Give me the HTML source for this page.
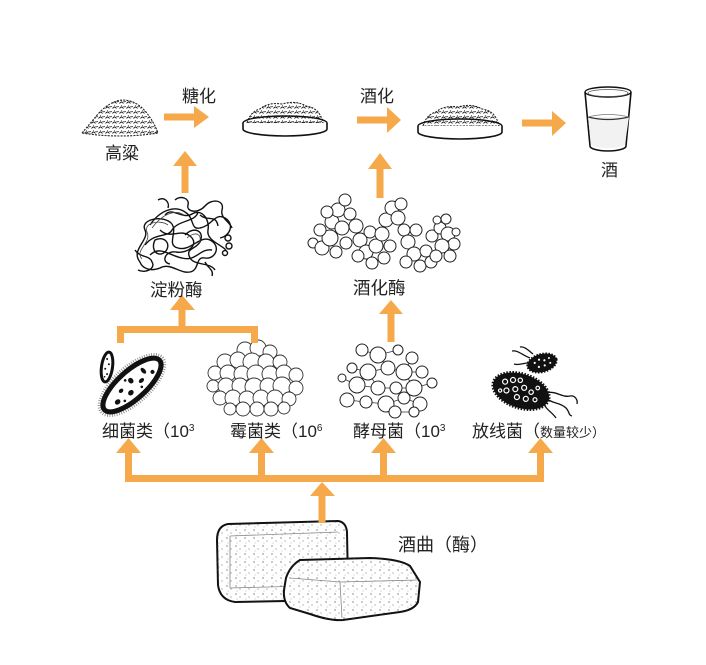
<!DOCTYPE html>
<html><head><meta charset="utf-8">
<style>
html,body{margin:0;padding:0;background:#fff;}
svg{display:block;}
text{font-family:"Liberation Sans","Noto Sans CJK SC",sans-serif;fill:#222;}
</style></head>
<body>
<svg width="706" height="665" viewBox="0 0 706 665" xmlns="http://www.w3.org/2000/svg">
<defs>
<pattern id="grain" width="7" height="5" patternUnits="userSpaceOnUse">
<path d="M0.5,3.5 q2,-3 4,0" fill="none" stroke="#222" stroke-width="0.9"/>
<path d="M4.5,1.2 q1.2,1.4 2.3,0" fill="none" stroke="#222" stroke-width="0.8"/>
<circle cx="2.5" cy="0.8" r="0.5" fill="#333"/>
</pattern>
<pattern id="dots" width="9" height="8" patternUnits="userSpaceOnUse">
<circle cx="2" cy="2" r="0.6" fill="#444"/><circle cx="6" cy="5" r="0.5" fill="#444"/><circle cx="3" cy="7" r="0.4" fill="#666"/>
</pattern>
</defs>
<rect width="706" height="665" fill="#fff"/>

<!-- sorghum pile -->
<path d="M82,133 Q88,126 98,114 Q110,101 122,100 Q136,100 146,112 Q154,122 158,133 Q120,139 82,133 Z" fill="url(#grain)" stroke="#222" stroke-width="1.1" stroke-dasharray="2 1.2"/>

<!-- dish 1 -->
<path d="M247,123 Q250,112 260,109 Q268,102 282,104 Q296,100 306,106 Q320,108 323,123 Z" fill="url(#grain)" stroke="#222" stroke-width="1.1" stroke-dasharray="2 1.2"/>
<ellipse cx="285" cy="123" rx="42" ry="7" fill="none" stroke="#111" stroke-width="1.4"/>
<path d="M243,123 L243,129 A42,7 0 0 0 327,129 L327,123" fill="#fff" stroke="#111" stroke-width="1.6"/>
<!-- dish 2 -->
<path d="M423,126 Q426,115 436,112 Q444,105 458,107 Q472,103 482,109 Q496,111 499,126 Z" fill="url(#grain)" stroke="#222" stroke-width="1.1" stroke-dasharray="2 1.2"/>
<ellipse cx="460" cy="126" rx="42" ry="7" fill="none" stroke="#111" stroke-width="1.4"/>
<path d="M418,126 L418,132 A42,7 0 0 0 502,132 L502,126" fill="#fff" stroke="#111" stroke-width="1.6"/>

<!-- glass -->
<path d="M585,92 L590,146 A18,5 0 0 0 626,146 L631,92" fill="#fff" stroke="#111" stroke-width="1.6"/>
<ellipse cx="608" cy="92" rx="23" ry="5" fill="none" stroke="#111" stroke-width="1.4"/>
<ellipse cx="608" cy="93" rx="20" ry="3.5" fill="none" stroke="#555" stroke-width="0.8"/>
<path d="M588,117 L591,144 A17,4 0 0 0 625,144 L629,117" fill="#f2f2f2" stroke="none"/>
<path d="M588,117 Q608,122 629,117" fill="none" stroke="#333" stroke-width="1.2"/>
<path d="M588,117 Q608,112 629,117" fill="none" stroke="#777" stroke-width="0.8"/>

<!-- amylase squiggles -->
<g fill="none" stroke="#111" stroke-width="1.4">
<path d="M140,262 C130,250 150,240 145,230 C140,220 160,215 170,222 C180,230 165,245 178,248 C190,252 200,235 210,240 C222,246 215,260 205,258 C195,256 200,270 190,272 C180,274 170,262 160,268 C150,272 142,268 140,262"/>
<path d="M150,225 C160,210 175,205 185,212 C195,218 190,230 200,228 C212,226 215,212 225,218 C235,224 230,236 220,238"/>
<path d="M175,200 C180,195 190,198 188,205 C186,212 198,214 205,206 C212,198 225,200 222,210 C220,218 230,222 232,228"/>
<path d="M155,240 C165,235 172,245 165,252 C158,258 150,250 155,240 Z"/>
<path d="M185,235 C195,225 205,232 200,242 C195,250 185,248 190,258 C195,266 210,262 215,270"/>
<path d="M135,250 C140,258 150,255 152,262 C156,268 146,274 138,270"/>
<path d="M160,230 C170,240 180,228 190,236 C200,244 188,254 176,252 C166,250 160,262 170,264"/>
<path d="M145,245 C155,232 168,238 172,230 C178,220 196,222 198,212"/>
<path d="M165,215 C172,206 182,220 192,214 C202,208 210,220 208,230 C206,240 220,244 226,250"/>
<path d="M150,255 C160,245 170,256 182,258 C196,262 200,248 212,250"/>
<path d="M200,215 C208,222 216,214 218,226"/>
<circle cx="228" cy="238" r="3"/><circle cx="229" cy="246" r="3"/><circle cx="225" cy="253" r="2.5"/>
<path d="M205,262 C208,268 214,270 212,276"/>
<path d="M158,200 C164,196 170,202 168,208"/>
</g>
<g fill="none" stroke="#444" stroke-width="0.8">
<path d="M142,259 C134,250 152,243 147,232 C143,223 160,219 168,225"/>
<path d="M152,228 C162,214 175,209 184,215"/>
<path d="M187,238 C196,230 203,235 199,243"/>
</g>

<!-- zymase bubble chain -->
<g fill="#fff" stroke="#222" stroke-width="1">
<circle cx="313" cy="243" r="5"/><circle cx="322" cy="248" r="7"/><circle cx="330" cy="238" r="8"/><circle cx="320" cy="230" r="6"/><circle cx="332" cy="222" r="7"/><circle cx="338" cy="210" r="7"/><circle cx="327" cy="212" r="6"/><circle cx="345" cy="200" r="6"/><circle cx="350" cy="214" r="6"/><circle cx="342" cy="228" r="7"/><circle cx="336" cy="252" r="6"/><circle cx="346" cy="243" r="6"/>
<circle cx="356" cy="226" r="7"/><circle cx="360" cy="240" r="7"/><circle cx="366" cy="252" r="7"/><circle cx="372" cy="263" r="6"/><circle cx="358" cy="256" r="6"/><circle cx="376" cy="246" r="7"/><circle cx="370" cy="232" r="6"/>
<circle cx="382" cy="234" r="7"/><circle cx="386" cy="220" r="7"/><circle cx="392" cy="208" r="7"/><circle cx="401" cy="204" r="6"/><circle cx="398" cy="218" r="7"/><circle cx="390" cy="246" r="6"/><circle cx="384" cy="258" r="6"/><circle cx="404" cy="230" r="6"/>
<circle cx="408" cy="242" r="7"/><circle cx="414" cy="254" r="7"/><circle cx="420" cy="266" r="6"/><circle cx="406" cy="262" r="6"/><circle cx="426" cy="251" r="6"/><circle cx="416" cy="230" r="6"/><circle cx="431" cy="262" r="6"/>
<circle cx="432" cy="236" r="6"/><circle cx="440" cy="228" r="6"/><circle cx="448" cy="234" r="7"/><circle cx="454" cy="244" r="6"/><circle cx="442" cy="246" r="7"/><circle cx="436" cy="256" r="6"/><circle cx="450" cy="256" r="6"/><circle cx="446" cy="219" r="5"/><circle cx="437" cy="220" r="4"/><circle cx="456" cy="232" r="4"/>
</g>

<!-- bacteria -->
<g transform="translate(107,367) rotate(8)">
<ellipse rx="5.5" ry="15" fill="#fff" stroke="#111" stroke-width="3"/>
<circle cx="-1" cy="-8" r="1" fill="#111"/><circle cx="1.5" cy="-3" r="1" fill="#111"/><circle cx="-1.5" cy="2" r="1" fill="#111"/><circle cx="1" cy="7" r="1" fill="#111"/><circle cx="-1" cy="10" r="0.8" fill="#111"/>
</g>
<g transform="translate(132,385) rotate(-42)">
<ellipse rx="41" ry="18" fill="none" stroke="#888" stroke-width="3" stroke-dasharray="0.8 1.6"/>
<ellipse rx="37" ry="14" fill="#fff" stroke="#111" stroke-width="5"/>
<ellipse cx="-22" cy="3" rx="3" ry="2.5" fill="#111"/><ellipse cx="-12" cy="-3" rx="2.5" ry="2" fill="#111"/><ellipse cx="-6" cy="5" rx="3" ry="2.5" fill="#111"/><ellipse cx="2" cy="-4" rx="2.5" ry="3" fill="#111"/><ellipse cx="10" cy="3" rx="3" ry="2" fill="#111"/><ellipse cx="18" cy="-3" rx="2" ry="3.5" fill="#111"/><ellipse cx="24" cy="4" rx="2" ry="2" fill="#111"/><circle cx="-16" cy="7" r="1.3" fill="#111"/><circle cx="6" cy="8" r="1.3" fill="#111"/><circle cx="-2" cy="-8" r="1.3" fill="#111"/>
</g>

<!-- mold cluster -->
<g fill="#fff" stroke="#333" stroke-width="0.9">
<circle cx="245" cy="350" r="8"/><circle cx="258" cy="348" r="8"/><circle cx="270" cy="352" r="7"/>
<circle cx="225" cy="362" r="8"/><circle cx="238" cy="360" r="8"/><circle cx="252" cy="362" r="9"/><circle cx="266" cy="362" r="8"/><circle cx="280" cy="362" r="7"/>
<circle cx="215" cy="373" r="7"/><circle cx="228" cy="373" r="8"/><circle cx="242" cy="374" r="8"/><circle cx="256" cy="374" r="9"/><circle cx="270" cy="374" r="8"/><circle cx="284" cy="373" r="8"/><circle cx="296" cy="375" r="7"/>
<circle cx="213" cy="386" r="6"/><circle cx="226" cy="386" r="8"/><circle cx="240" cy="386" r="8"/><circle cx="254" cy="387" r="9"/><circle cx="268" cy="386" r="8"/><circle cx="282" cy="386" r="9"/><circle cx="296" cy="388" r="7"/>
<circle cx="220" cy="398" r="7"/><circle cx="233" cy="398" r="8"/><circle cx="247" cy="399" r="8"/><circle cx="261" cy="398" r="8"/><circle cx="275" cy="398" r="8"/><circle cx="289" cy="399" r="7"/>
<circle cx="230" cy="409" r="6"/><circle cx="243" cy="409" r="7"/><circle cx="257" cy="409" r="7"/><circle cx="271" cy="409" r="7"/><circle cx="284" cy="408" r="6"/>
</g>

<!-- yeast -->
<g fill="none" stroke="#333" stroke-width="0.8">
<path d="M362,350 L378,355 L398,350 M378,355 L388,368 L404,372 L422,372 M368,372 L388,368 M352,368 L368,372 L357,385 L342,378 M357,385 L378,388 L396,388 L414,388 L432,383 M347,400 L366,402 L386,404 L404,398 L420,404 M386,404 L395,412 L414,412 M404,372 L414,388 M412,358 L404,372 M368,372 L378,388"/>
</g>
<g fill="#fff" stroke="#222" stroke-width="1">
<circle cx="362" cy="350" r="6"/><circle cx="378" cy="355" r="8"/><circle cx="398" cy="350" r="5"/><circle cx="412" cy="358" r="6"/><circle cx="352" cy="368" r="5"/><circle cx="368" cy="372" r="8"/><circle cx="388" cy="368" r="7"/><circle cx="404" cy="372" r="8"/><circle cx="422" cy="372" r="6"/><circle cx="342" cy="378" r="4"/><circle cx="357" cy="385" r="8"/><circle cx="378" cy="388" r="7"/><circle cx="396" cy="388" r="6"/><circle cx="414" cy="388" r="8"/><circle cx="432" cy="383" r="5"/><circle cx="347" cy="400" r="7"/><circle cx="366" cy="402" r="6"/><circle cx="386" cy="404" r="8"/><circle cx="404" cy="398" r="6"/><circle cx="420" cy="404" r="7"/><circle cx="395" cy="412" r="6"/><circle cx="414" cy="412" r="5"/>
</g>

<!-- actinomycetes -->
<g fill="none" stroke="#111" stroke-width="1.3">
<path d="M545,393 C556,390 562,398 570,396 C575,395 578,400 577,404"/>
<path d="M546,398 C552,404 560,402 566,408 C570,412 568,415 572,416"/>
<path d="M543,402 C546,410 552,412 556,418"/>
<path d="M530,358 C522,355 518,350 512,351"/>
<path d="M531,363 C524,362 520,366 514,364"/>
<path d="M533,354 C528,350 524,346 520,347"/>
</g>
<g transform="translate(521,391) rotate(18)">
<ellipse rx="29" ry="17" fill="#111" stroke="#111" stroke-width="3" stroke-dasharray="1.5 1.5"/>
<g fill="#111" stroke="#fff" stroke-width="1.2">
<circle cx="-18" cy="-4" r="2.5"/><circle cx="-11" cy="-8" r="2.5"/><circle cx="-4" cy="-10" r="2.2"/><circle cx="-14" cy="4" r="2.5"/><circle cx="-6" cy="0" r="2.5"/><circle cx="2" cy="-4" r="2.5"/><circle cx="10" cy="-2" r="2.2"/><circle cx="-2" cy="7" r="2.5"/><circle cx="7" cy="6" r="2.5"/><circle cx="16" cy="4" r="2"/><circle cx="15" cy="-8" r="1.8"/><circle cx="-20" cy="6" r="1.6"/>
</g>
</g>
<g transform="translate(542,363) rotate(-15)">
<ellipse rx="15" ry="9" fill="#111" stroke="#111" stroke-width="2" stroke-dasharray="1.5 1.5"/>
<g fill="#fff"><circle cx="-7" cy="-2" r="1.1"/><circle cx="-2" cy="-4" r="1.1"/><circle cx="3" cy="-2" r="1.1"/><circle cx="8" cy="-3" r="1"/><circle cx="-4" cy="3" r="1.1"/><circle cx="2" cy="3" r="1.1"/><circle cx="8" cy="2" r="1"/></g>
</g>

<!-- bricks -->
<path d="M228,524 L338,521 Q346,522 347,532 L348,585 Q347,598 336,600 L235,602 Q220,600 218,585 L217,540 Q217,526 228,524 Z" fill="#fff" stroke="#111" stroke-width="2"/>
<path d="M228,524 L338,521 Q346,522 347,532 L348,585 Q347,598 336,600 L235,602 Q220,600 218,585 L217,540 Q217,526 228,524 Z" fill="url(#dots)" stroke="none"/>
<path d="M230,536 L338,532 M230,536 L230,588 M230,588 L340,585" fill="none" stroke="#888" stroke-width="0.8"/>
<path d="M300,560 L370,558 Q400,559 410,566 L420,582 L418,602 Q414,610 400,612 L343,620 Q330,621 310,614 L290,608 Q283,602 284,590 L286,578 Q290,566 300,560 Z" fill="#fff" stroke="#111" stroke-width="2"/>
<path d="M300,560 L370,558 Q400,559 410,566 L420,582 L418,602 Q414,610 400,612 L343,620 Q330,621 310,614 L290,608 Q283,602 284,590 L286,578 Q290,566 300,560 Z" fill="url(#dots)" stroke="none"/>
<path d="M290,578 L340,582 L418,580 M340,582 L342,618" fill="none" stroke="#888" stroke-width="0.8"/>

<!-- arrows -->
<g fill="#F5A94B">
<rect x="164" y="113.5" width="32" height="7"/><polygon points="194,106 209,117 194,128"/>
<rect x="357" y="116.5" width="32" height="7"/><polygon points="387,107 401,120 387,133"/>
<rect x="522" y="119.5" width="32" height="7"/><polygon points="552,111 566,123 552,136"/>
<rect x="181.5" y="165" width="7" height="28"/><polygon points="173,166 185,151 197,166"/>
<rect x="376.5" y="168" width="7" height="30"/><polygon points="368,169 380,153 392,169"/>
<rect x="178.5" y="309" width="7" height="20"/><polygon points="170,310 182,295 195,310"/>
<rect x="117" y="326" width="141" height="7"/>
<rect x="117" y="326" width="7" height="17"/><rect x="251" y="326" width="7" height="17"/>
<rect x="387.5" y="313" width="7" height="29"/><polygon points="379,314 391,300 403,314"/>
<rect x="125" y="475" width="419" height="7"/>
<rect x="125" y="452" width="7" height="25"/><polygon points="116,453 128.5,438 141,453"/>
<rect x="258" y="452" width="7" height="25"/><polygon points="249,453 261.5,438 274,453"/>
<rect x="380" y="452" width="7" height="25"/><polygon points="371,453 383.5,438 396,453"/>
<rect x="537" y="452" width="7" height="25"/><polygon points="528,453 540.5,438 553,453"/>
<rect x="318.5" y="494" width="7" height="29"/><polygon points="310,496 322,482 335,496"/>
</g>

<!-- labels -->
<g font-size="17">
<text x="182" y="102">糖化</text>
<text x="360" y="102">酒化</text>
<text x="105" y="159">高粱</text>
<text x="601" y="176">酒</text>
<text x="150" y="296" font-size="17.5">淀粉酶</text>
<text x="353" y="294" font-size="17.5">酒化酶</text>
<text x="102" y="437">细菌类（10<tspan font-size="10" dy="-6">3</tspan></text>
<text x="230" y="437">霉菌类（10<tspan font-size="10" dy="-6">6</tspan></text>
<text x="353" y="437">酵母菌（10<tspan font-size="10" dy="-6">3</tspan></text>
<text x="472" y="437">放线菌（<tspan font-size="13">数量较少）</tspan></text>
<text x="398" y="551" font-size="18">酒曲（酶）</text>
</g>
</svg>
</body></html>
